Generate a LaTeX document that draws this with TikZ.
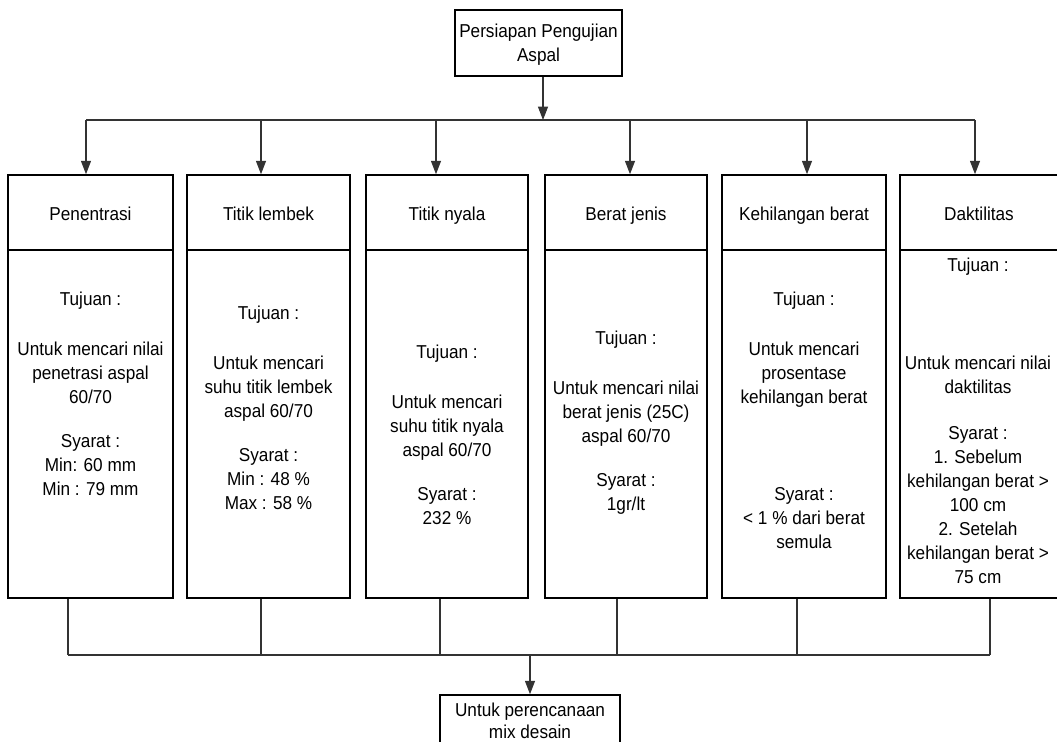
\documentclass[tikz,border=0pt]{standalone}
\usepackage{fontspec}
\setmainfont{Liberation Sans}[FakeStretch=0.92]
\usetikzlibrary{arrows.meta,fit}
\begin{document}
\begin{tikzpicture}[x=0.75pt,y=-0.75pt,
  box/.style={draw=black,line width=1.2pt,inner sep=0pt},
  txt/.style={font=\fontsize{14}{18}\selectfont,align=center,inner sep=0pt},
  conn/.style={draw=black!80,line width=0.8pt},
  arr/.style={conn,-{Triangle[length=10pt,width=7.5pt]}}]
\useasboundingbox (0,0) rectangle (1057,742);
\clip (0,0) rectangle (1057,742);
% top box
\node[box,fit={(455,10)(622,76)}] (top) {};
\node[txt,anchor=north] (toptxt) at (538.5,24) {Persiapan Pengujian\\Aspal};
% headers
\node[box,fit={(8,175)(173,250)}] (h1) {};
\node[box,fit={(187,175)(350,250)}] (h2) {};
\node[box,fit={(366,175)(528,250)}] (h3) {};
\node[box,fit={(545,175)(707,250)}] (h4) {};
\node[box,fit={(722,175)(886,250)}] (h5) {};
\node[box,fit={(900,175)(1063,250)}] (h6) {};
\node[txt,anchor=base] (ht1) at (90.5,220) {Penentrasi};
\node[txt,anchor=base] (ht2) at (268.5,220) {Titik lembek};
\node[txt,anchor=base] (ht3) at (447,220) {Titik nyala};
\node[txt,anchor=base] (ht4) at (626,220) {Berat jenis};
\node[txt,anchor=base] (ht5) at (804,220) {Kehilangan berat};
\node[txt,anchor=base] (ht6) at (979,220) {Daktilitas};
% bodies
\node[box,fit={(8,250)(173,598)}] (b1) {};
\node[box,fit={(187,250)(350,598)}] (b2) {};
\node[box,fit={(366,250)(528,598)}] (b3) {};
\node[box,fit={(545,250)(707,598)}] (b4) {};
\node[box,fit={(722,250)(886,598)}] (b5) {};
\node[box,fit={(900,250)(1063,598)}] (b6) {};
% body texts
\node[txt,anchor=north] (t1) at (90.5,291.5) {Tujuan :\\[19.5pt]Untuk mencari nilai\\penetrasi aspal\\60/70\\[15pt]Syarat :\\Min: 60 mm\\Min : 79 mm};
\node[txt,anchor=north] (t2) at (268.5,305.5) {Tujuan :\\[19.5pt]Untuk mencari\\suhu titik lembek\\aspal 60/70\\[15pt]Syarat :\\Min : 48 \%\\Max : 58 \%};
\node[txt,anchor=north] (t3) at (447,344.5) {Tujuan :\\[19.5pt]Untuk mencari\\suhu titik nyala\\aspal 60/70\\[15pt]Syarat :\\232 \%};
\node[txt,anchor=north] (t4) at (626,330.5) {Tujuan :\\[19.5pt]Untuk mencari nilai\\berat jenis (25C)\\aspal 60/70\\[15pt]Syarat :\\1gr/lt};
\node[txt,anchor=north] (t5) at (804,291.5) {Tujuan :\\[19.5pt]Untuk mencari\\prosentase\\kehilangan berat\\[54.75pt]Syarat :\\< 1 \% dari berat\\semula};
\node[txt,anchor=north] (t6) at (978,257.5) {Tujuan :\\[55.5pt]Untuk mencari nilai\\daktilitas\\[16.5pt]Syarat :\\1. Sebelum\\kehilangan berat >\\100 cm\\2. Setelah\\kehilangan berat >\\75 cm};
% bottom box
\node[box,fit={(440,695)(620,760)}] (bot) {};
\node[txt,anchor=north,font=\fontsize{14}{16.5}\selectfont] (bottxt) at (530,703) {Untuk perencanaan\\mix desain};
% top connectors
\coordinate (tc) at (543,120);
\coordinate (a1) at (86,120);
\coordinate (a2) at (261,120);
\coordinate (a3) at (436,120);
\coordinate (a4) at (630,120);
\coordinate (a5) at (807,120);
\coordinate (a6) at (975,120);
\draw[arr] (top.south -| tc) -- (tc);
\draw[conn] (a1) -- (a6);
\foreach \i in {1,...,6} {\draw[arr] (a\i) -- (a\i |- h\i.north);}
% bottom connectors
\coordinate (u1) at (68,655);
\coordinate (u2) at (261,655);
\coordinate (u3) at (440,655);
\coordinate (u4) at (617,655);
\coordinate (u5) at (797,655);
\coordinate (u6) at (990,655);
\coordinate (uc) at (530,655);
\foreach \i in {1,...,6} {\draw[conn] (u\i |- b\i.south) -- (u\i);}
\draw[conn] (u1) -- (u6);
\draw[arr] (uc) -- (uc |- bot.north);
\end{tikzpicture}
\end{document}
